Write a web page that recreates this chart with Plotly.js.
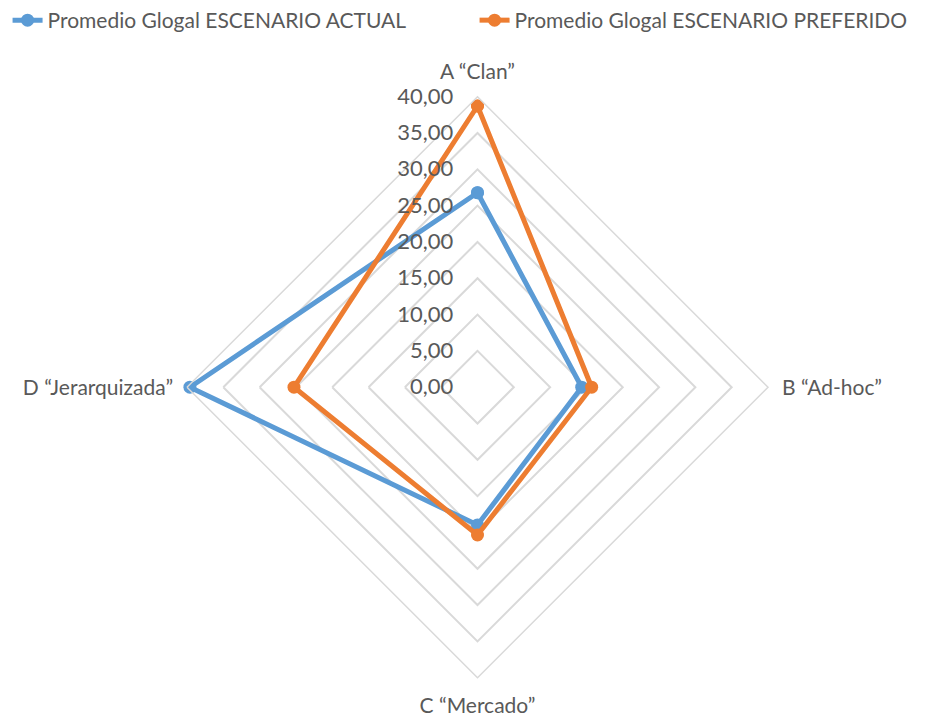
<!DOCTYPE html>
<html>
<head>
<meta charset="utf-8">
<script src="https://cdn.plot.ly/plotly-3.0.1.min.js"></script>
<style>html,body{margin:0;padding:0;background:#fff;}#chart{width:946px;height:719px;}</style>
</head>
<body>
<div id="chart"></div>
<script>
const categories = ['A “Clan”', 'B “Ad-hoc”', 'C “Mercado”', 'D “Jerarquizada”'];
const seriesNames = ['Promedio Glogal ESCENARIO ACTUAL', 'Promedio Glogal ESCENARIO PREFERIDO'];
const actual = [26.78, 14.35, 18.97, 39.60];
const preferido = [38.72, 15.72, 20.35, 25.27];
const radialTicks = [0, 5, 10, 15, 20, 25, 30, 35, 40];

function closed(a) { return a.concat([a[0]]); }

const font = 'Lato, "Open Sans", sans-serif';
const traces = [
  {type: 'scatterpolar', name: seriesNames[0], r: closed(actual), theta: closed(categories),
   mode: 'lines+markers', line: {color: '#5B9BD5', width: 5}, marker: {color: '#5B9BD5', size: 13}},
  {type: 'scatterpolar', name: seriesNames[1], r: closed(preferido), theta: closed(categories),
   mode: 'lines+markers', line: {color: '#ED7D31', width: 5}, marker: {color: '#ED7D31', size: 13}}
];

const layout = {
  width: 946, height: 719,
  margin: {l: 0, r: 0, t: 0, b: 0},
  paper_bgcolor: '#fff',
  separators: ',.',
  font: {family: font, color: '#595959', size: 21},
  showlegend: true,
  legend: {orientation: 'h', x: 0.008, y: 1.0, yanchor: 'top', xanchor: 'left',
           font: {family: font, size: 21, color: '#595959'},
           entrywidth: 422, entrywidthmode: 'pixels', tracegroupgap: 0},
  polar: {
    domain: {x: [187/946, 768/946], y: [41.3/719, 622.3/719]},
    gridshape: 'linear',
    bgcolor: 'rgba(0,0,0,0)',
    angularaxis: {rotation: 90, direction: 'clockwise', showgrid: false,
                  showline: true, linecolor: '#d9d9d9', linewidth: 1.5,
                  ticks: 'outside', ticklen: 9, tickcolor: 'rgba(0,0,0,0)',
                  tickfont: {size: 21, color: '#595959', family: font}},
    radialaxis: {range: [0, 40], tickvals: radialTicks, tickformat: '.2f', angle: 90,
                 showline: false, ticks: 'outside', ticklen: 16, tickcolor: 'rgba(0,0,0,0)',
                 gridcolor: '#d9d9d9', gridwidth: 1.5,
                 tickangle: 90, side: 'counterclockwise',
                 tickfont: {size: 22, color: '#595959', family: font}}
  }
};

Plotly.newPlot('chart', traces, layout, {displayModeBar: false});
</script>
</body>
</html>
